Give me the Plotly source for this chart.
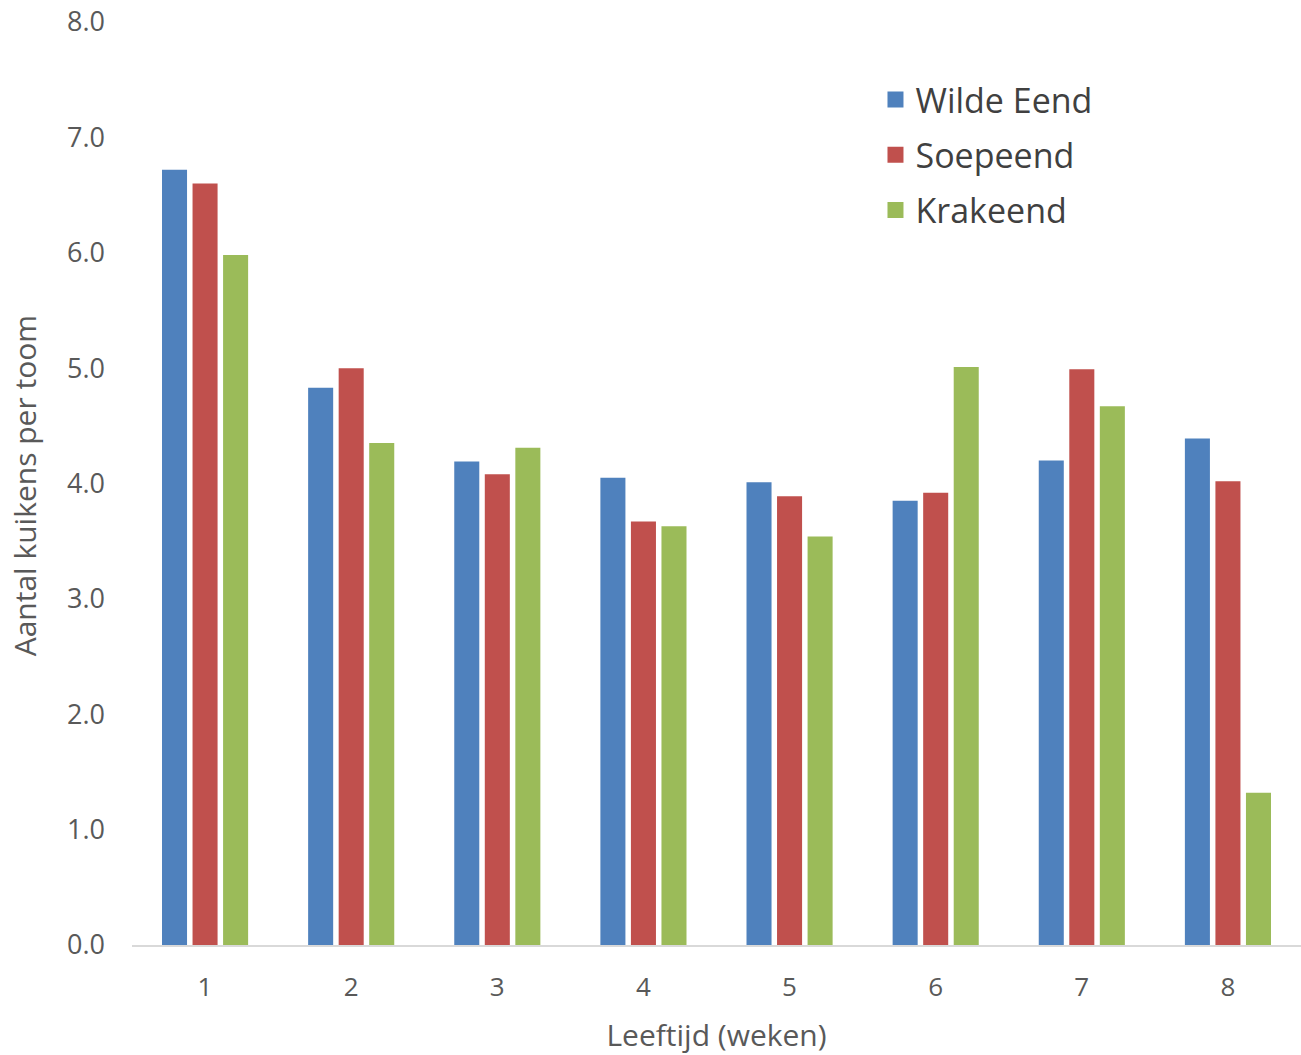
import plotly.graph_objects as go

weeks = ["1", "2", "3", "4", "5", "6", "7", "8"]
wilde_eend = [6.72, 4.83, 4.19, 4.05, 4.01, 3.85, 4.20, 4.39]
soepeend = [6.60, 5.00, 4.08, 3.67, 3.89, 3.92, 4.99, 4.02]
krakeend = [5.98, 4.35, 4.31, 3.63, 3.54, 5.01, 4.67, 1.32]

series_names = ["Wilde Eend", "Soepeend", "Krakeend"]
series_values = [wilde_eend, soepeend, krakeend]
colors = ["#4f81bd", "#c0504d", "#9bbb59"]
y_title = "Aantal kuikens per toom"
x_title = "Leeftijd (weken)"

fig = go.Figure()
for name, vals, col in zip(series_names, series_values, colors):
    fig.add_trace(go.Bar(x=weeks, y=vals, name=name, marker_color=col,
                         marker_line_width=0, showlegend=False))
for i, (name, col) in enumerate(zip(series_names, colors)):
    fig.add_trace(go.Scatter(x=[None], y=[None], mode="markers", name=name,
                             marker=dict(symbol="square", size=16, color=col),
                             legendgroup=f"g{i}", showlegend=True))

font_family = "Open Sans, Liberation Sans, sans-serif"
gray = "#595959"

fig.update_layout(
    width=1301, height=1055,
    margin=dict(l=132, r=0, t=22, b=110, autoexpand=False),
    paper_bgcolor="white", plot_bgcolor="white",
    barmode="group", bargap=0.373, bargroupgap=0.18,
    font=dict(family=font_family, color=gray),
    legend=dict(x=0.636, y=0.947, xanchor="left", yanchor="top",
                font=dict(size=34, color="#404040", family=font_family),
                tracegroupgap=8, bgcolor="rgba(0,0,0,0)"),
    xaxis=dict(type="category", showgrid=False, showline=True, linecolor="#d9d9d9",
               linewidth=1.5, ticks="", tickfont=dict(size=26, color=gray),
               ticklabelstandoff=18, automargin=False,
               title=dict(text=x_title, font=dict(size=30, color=gray), standoff=26)),
    yaxis=dict(range=[0, 8], dtick=1, tickformat=".1f", showgrid=False, zeroline=False,
               showline=False, ticks="", tickfont=dict(size=27, color=gray),
               ticklabelstandoff=26, ticklabeloverflow="allow", automargin=False),
    annotations=[dict(text=y_title, xref="paper", yref="paper", x=-0.0924, y=0.498,
                      xanchor="center", yanchor="middle", textangle=-90, showarrow=False,
                      font=dict(size=30, color=gray, family=font_family))],
)

fig.write_html("out.html", config={"displayModeBar": False},
               post_script="document.body.style.margin='0';document.body.style.overflow='hidden';")
